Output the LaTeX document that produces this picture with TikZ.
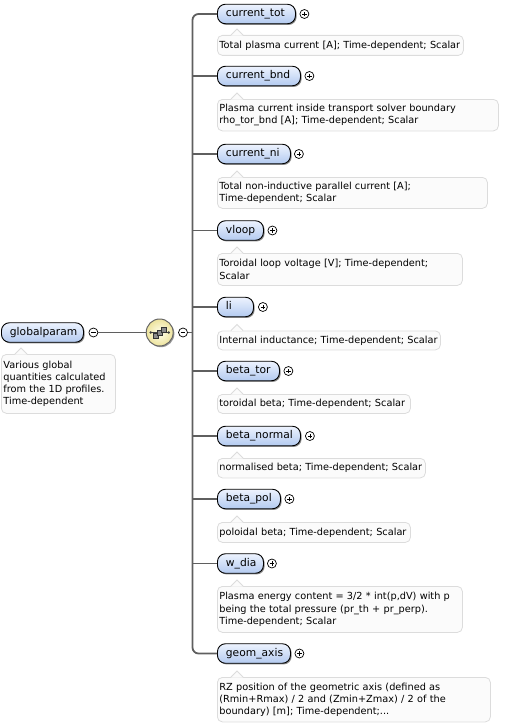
\documentclass[tikz,border=0pt]{standalone}
\usepackage{fontspec}
\setmainfont{DejaVu Sans}
\usepackage{tikz}
\usetikzlibrary{shadows}
\hyphenpenalty=10000
\exhyphenpenalty=10000
\definecolor{elemtop}{HTML}{EDF3FE}
\definecolor{elembot}{HTML}{B3CAF0}
\definecolor{docfill}{HTML}{FBFBFB}
\definecolor{docline}{HTML}{DCDCDC}
\definecolor{connline}{HTML}{5F5F5F}
\definecolor{seqin}{HTML}{FFFFEE}
\definecolor{seqout}{HTML}{EDE39C}
\def\doctip(#1){\fill[docfill] ([xshift=14pt,yshift=-0.6pt]#1.north west) -- ([xshift=20pt,yshift=6pt]#1.north west) -- ([xshift=26pt,yshift=-0.6pt]#1.north west) -- cycle;
	\draw[docline, line width=0.8pt] ([xshift=14pt]#1.north west) -- ([xshift=20pt,yshift=6pt]#1.north west) -- ([xshift=26pt]#1.north west);}

\begin{document}
\begin{tikzpicture}[x=1pt, y=-1pt,
	elem/.style={anchor=west, draw=black, line width=0.9pt, rounded corners=8pt,
		top color=elemtop, bottom color=elembot,
		general shadow={fill=black!45, shadow xshift=1.2pt, shadow yshift=-1.2pt},
		font=\fontsize{10.7}{12}\selectfont, text width=#1, align=left,
		inner xsep=8.5pt, inner ysep=0pt, minimum height=19.5pt, text height=7.6pt, text depth=2.4pt},
	doc/.style 2 args={anchor=north west, draw=docline, fill=docfill, line width=0.8pt, rounded corners=5pt,
		font=\fontsize{9.75}{12.2}\selectfont, text width=#1, align=left,
		inner xsep=2pt, inner ysep=0pt, minimum height=#2},
	plusc/.style={circle, draw=black, line width=0.7pt, fill=white, minimum size=9pt, inner sep=0pt,
		path picture={\draw[line width=0.7pt] ([xshift=-2.4pt]path picture bounding box.center) -- ([xshift=2.4pt]path picture bounding box.center)
			([yshift=-2.4pt]path picture bounding box.center) -- ([yshift=2.4pt]path picture bounding box.center);}},
	minusc/.style={circle, draw=black, line width=0.7pt, fill=white, minimum size=9pt, inner sep=0pt,
		path picture={\draw[line width=0.7pt] ([xshift=-2.4pt]path picture bounding box.center) -- ([xshift=2.4pt]path picture bounding box.center);}},
	seqc/.style={circle, draw=black!60, line width=1pt, minimum size=27pt, inner sep=0pt,
		inner color=seqin, outer color=seqout,
		general shadow={fill=black!40, shadow xshift=1.2pt, shadow yshift=-1.2pt}},
	conn/.style={draw=connline, line width=1.8pt}]
		%%%%% START %%%%%
		\useasboundingbox (0,0) rectangle (522,725);
		
		\node[elem=65pt] (gp) at (1,332.5) {globalparam};
		\node[minusc] (mgp) at ([xshift=9.5pt]gp.east) {};
		\node[doc={110pt}{59pt}] (dgp) at (1,354) {Various global\\quantities calculated\\from the 1D profiles.\\Time-dependent};
		\doctip(dgp)
		
		\node[seqc] (seq) at (159.7,332.5) {};
		\node[minusc] (mseq) at (183,332.5) {};
		\coordinate (bus) at (192.5,332.5);
		
		\begin{scope}[shift={(seq.center)}]
			\draw[line width=0.8pt, black!75] (-9,0) -- (9,0);
			\fill[black!75] (-9,0) circle (1.4pt) (9,0) circle (1.4pt);
			\draw[fill=black!45, draw=black!80, line width=0.5pt] (-6.5,0.5) rectangle (-1.5,5.5);
			\draw[fill=black!45, draw=black!80, line width=0.5pt] (-2.5,-2.5) rectangle (2.5,2.5);
			\draw[fill=black!45, draw=black!80, line width=0.5pt] (1.5,-5.5) rectangle (6.5,-0.5);
		\end{scope}
		
		\node[elem=61pt] (ct) at (217,14) {current\_tot};
		\node[elem=66pt] (cb) at (217,76) {current\_bnd};
		\node[elem=56pt] (cn) at (217,154) {current\_ni};
		\node[elem=29pt] (vl) at (217,230.5) {vloop};
		\node[elem=19pt] (li) at (217,307) {li};
		\node[elem=45pt] (bt) at (217,371) {beta\_tor};
		\node[elem=66pt] (bn) at (217,436) {beta\_normal};
		\node[elem=46pt] (bp) at (217,499) {beta\_pol};
		\node[elem=29pt] (wd) at (217,563.5) {w\_dia};
		\node[elem=56pt] (ga) at (217,653.5) {geom\_axis};
		
		\node[plusc] (pct) at ([xshift=8.5pt]ct.east) {};
		\node[plusc] (pcb) at ([xshift=8.5pt]cb.east) {};
		\node[plusc] (pcn) at ([xshift=8pt]cn.east) {};
		\node[plusc] (pvl) at ([xshift=8.5pt]vl.east) {};
		\node[plusc] (pli) at ([xshift=9pt]li.east) {};
		\node[plusc] (pbt) at ([xshift=8.5pt]bt.east) {};
		\node[plusc] (pbn) at ([xshift=9pt]bn.east) {};
		\node[plusc] (pbp) at ([xshift=8.5pt]bp.east) {};
		\node[plusc] (pwd) at ([xshift=8pt]wd.east) {};
		\node[plusc] (pga) at ([xshift=8.5pt]ga.east) {};
		
		\node[doc={242pt}{20pt}] (dct) at (217,35) {Total plasma current [A]; Time-dependent; Scalar};
		\node[doc={277pt}{31.5pt}] (dcb) at (217,99) {Plasma current inside transport solver boundary\\rho\_tor\_bnd [A]; Time-dependent; Scalar};
		\node[doc={266pt}{31pt}] (dcn) at (217,177) {Total non-inductive parallel current [A];\\Time-dependent; Scalar};
		\node[doc={241pt}{32pt}] (dvl) at (217,253) {Toroidal loop voltage [V]; Time-dependent;\\Scalar};
		\node[doc={219pt}{19pt}] (dli) at (217,330.5) {Internal inductance; Time-dependent; Scalar};
		\node[doc={189pt}{19pt}] (dbt) at (217,394) {toroidal beta; Time-dependent; Scalar};
		\node[doc={204pt}{19.5pt}] (dbn) at (217,458) {normalised beta; Time-dependent; Scalar};
		\node[doc={189pt}{20pt}] (dbp) at (217,522) {poloidal beta; Time-dependent; Scalar};
		\node[doc={241pt}{46pt}] (dwd) at (217,586) {Plasma energy content = 3/2 * int(p,dV) with p\\being the total pressure (pr\_th + pr\_perp).\\Time-dependent; Scalar};
		\node[doc={269pt}{44.5pt}] (dga) at (217,677) {RZ position of the geometric axis (defined as\\(Rmin+Rmax) / 2 and (Zmin+Zmax) / 2 of the\\boundary) [m]; Time-dependent;...};
		
		\doctip(dct) \doctip(dcb) \doctip(dcn) \doctip(dvl) \doctip(dli)
		\doctip(dbt) \doctip(dbn) \doctip(dbp) \doctip(dwd) \doctip(dga)
		
		\draw[conn] (mgp) -- (seq);
		\draw[conn] (mseq) -- (bus);
		\draw[conn, rounded corners=6pt] (ct) -| (bus) |- (ga);
		\draw[conn] (bus |- cb) -- (cb);
		\draw[conn] (bus |- cn) -- (cn);
		\draw[conn] (bus |- vl) -- (vl);
		\draw[conn] (bus |- li) -- (li);
		\draw[conn] (bus |- bt) -- (bt);
		\draw[conn] (bus |- bn) -- (bn);
		\draw[conn] (bus |- bp) -- (bp);
		\draw[conn] (bus |- wd) -- (wd);
		
		%%%%% END %%%%%
\end{tikzpicture}
\end{document}
